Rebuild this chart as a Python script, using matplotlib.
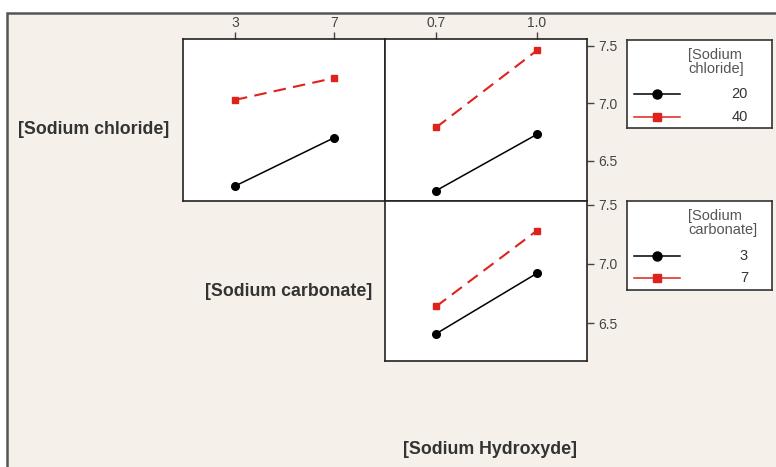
import matplotlib.pyplot as plt
from matplotlib.lines import Line2D
from matplotlib.patches import Rectangle

# Interaction plot of the response for the three factors
chloride_levels = ['20', '40']
carbonate_levels = [3, 7]
hydroxyde_levels = [0.7, 1.0]

# rows: chloride 20, chloride 40 ; x: sodium carbonate
chl_vs_carb = [[6.28, 6.70], [7.03, 7.22]]
# rows: chloride 20, chloride 40 ; x: sodium hydroxyde
chl_vs_hyd = [[6.24, 6.73], [6.79, 7.46]]
# rows: carbonate 3, carbonate 7 ; x: sodium hydroxyde
carb_vs_hyd = [[6.41, 6.92], [6.64, 7.28]]

W, H = 776, 467
bg = '#f5f1ea'
txt = '#333333'
plt.rcParams['font.family'] = ['Liberation Sans', 'DejaVu Sans']

fig = plt.figure(figsize=(W / 100, H / 100), dpi=100, facecolor='white')
fig.patches.append(Rectangle((7 / W, -0.1), 1.1, 1 - 13 / H + 0.1, transform=fig.transFigure,
                             facecolor=bg, edgecolor='#555555', linewidth=1.8, zorder=-5))


def px_axes(x0, y0, x1, y1):
    return fig.add_axes([x0 / W, 1 - y1 / H, (x1 - x0) / W, (y1 - y0) / H])


styles = [dict(color='black', marker='o', ms=5.5, lw=1.1, ls='-'),
          dict(color='#e0221c', marker='s', ms=5, lw=1.5, ls=(0, (6, 3.5)))]

ylim = (6.15, 7.56)


def panel(ax, xs, rows, xlim):
    for vals, st in zip(rows, styles):
        ax.plot(xs, vals, **st)
    ax.set_xlim(*xlim)
    ax.set_ylim(*ylim)
    ax.set_facecolor('white')
    for sp in ax.spines.values():
        sp.set_color('#222222')
        sp.set_linewidth(1.2)
    ax.tick_params(direction='out', length=5, width=1, colors='#444444', labelsize=10,
                   top=False, bottom=False, left=False, right=False,
                   labeltop=False, labelbottom=False, labelleft=False, labelright=False)
    ax.tick_params(axis='x', pad=1.5)
    ax.tick_params(axis='y', pad=3)


ax1 = px_axes(183, 39, 385, 201)
panel(ax1, carbonate_levels, chl_vs_carb, (0.9, 9.06))
ax1.set_xticks(carbonate_levels)
ax1.set_xticklabels(['3', '7'])
ax1.tick_params(top=True, labeltop=True)

ax2 = px_axes(385, 39, 587, 201)
panel(ax2, hydroxyde_levels, chl_vs_hyd, (0.548, 1.149))
ax2.set_xticks(hydroxyde_levels)
ax2.set_xticklabels(['0.7', '1.0'])
ax2.set_yticks([6.5, 7.0, 7.5])
ax2.tick_params(top=True, labeltop=True, right=True, labelright=True)

ax3 = px_axes(385, 201, 587, 361)
panel(ax3, hydroxyde_levels, carb_vs_hyd, (0.548, 1.149))
ax3.set_yticks([6.5, 7.0, 7.5])
ax3.set_ylim(6.18, 7.53)
ax3.tick_params(right=True, labelright=True)

# factor names
lab = dict(fontsize=12.8, fontweight='bold', color=txt, ha='center', va='center')
fig.text(94 / W, 1 - 130 / H, '[Sodium chloride]', **lab)
fig.text(289 / W, 1 - 291 / H, '[Sodium carbonate]', **lab)
fig.text(490 / W, 1 - 450 / H, '[Sodium Hydroxyde]', **lab)


def legend_box(y0, y1, title, labels, y_rows):
    lg = px_axes(627, y0, 772, y1)
    lg.set_xlim(627, 772)
    lg.set_ylim(y1, y0)
    lg.set_xticks([])
    lg.set_yticks([])
    lg.set_facecolor('white')
    for sp in lg.spines.values():
        sp.set_color('#333333')
        sp.set_linewidth(1.2)
    lg.text(688, y0 + 8, title, fontsize=10.5, color='#555555', va='top', ha='left',
            linespacing=1.0)
    for label, yy, st in zip(labels, y_rows, styles):
        lg.add_line(Line2D([634, 657, 680], [yy, yy, yy], color=st['color'], lw=1.1,
                           marker=st['marker'], markersize=st['ms'] + 1, markevery=[1]))
        lg.text(748, yy, label, fontsize=10.5, color=txt, va='center', ha='right')


legend_box(40, 128, '[Sodium\nchloride]', chloride_levels, [94, 117])
legend_box(201, 290, '[Sodium\ncarbonate]', [str(c) for c in carbonate_levels], [256, 278])

fig.savefig('out.png', dpi=100, facecolor=fig.get_facecolor())
